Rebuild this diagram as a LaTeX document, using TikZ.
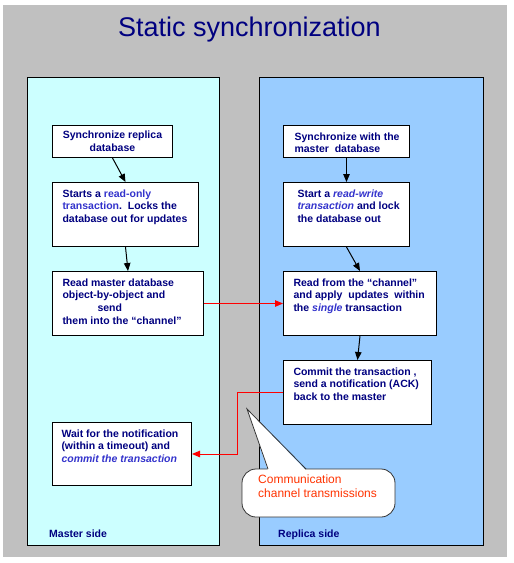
\documentclass[tikz,border=0pt]{standalone}
\usepackage{fontspec}
\setmainfont{Liberation Sans}
\usetikzlibrary{arrows.meta,positioning}
\usepackage{xcolor}

\definecolor{navy}{HTML}{000080}
\definecolor{hiblue}{HTML}{3333CC}
\definecolor{masterbg}{HTML}{CCFFFF}
\definecolor{replicabg}{HTML}{99CCFF}
\definecolor{callred}{HTML}{FF3300}
\definecolor{slidegray}{HTML}{C0C0C0}

\newcommand{\hilite}[1]{{\color{hiblue}#1}}
% top aligned text block of a fixed size: [left pad]{width}{height}{text}
\newcommand{\boxtext}[4][10pt]{\parbox[t][#3][t]{#2}{\raggedright\leftskip=#1\relax #4}}

\begin{document}
\begin{tikzpicture}[x=1pt, y=-1pt]
\tikzset{
    panel/.style={draw=black, line width=1pt},
    mybox/.style={rectangle, draw=black, fill=white, line width=1pt, anchor=north west, inner xsep=0pt, inner ysep=7pt, text=navy, font=\bfseries\fontsize{10.5}{12.8}\selectfont},
    myarrow/.style={-{Triangle[length=8pt,width=6.5pt]}, line width=1pt},
    redarrow/.style={myarrow, draw=red},
    sidelabel/.style={anchor=base west, inner sep=0pt, text=navy, font=\bfseries\fontsize{10.5}{12.8}\selectfont},
    callout/.style={draw=black!80, fill=white, line width=0.8pt}
}
\useasboundingbox (0,0) rectangle (514,563);
\fill[slidegray] (3,5) rectangle (507,557);

\node[anchor=base, inner sep=0pt, text=navy, font=\fontsize{27}{30}\selectfont] (title) at (249.5,36) {Static synchronization};

% the two sides
\draw[panel, fill=masterbg] (27,77) rectangle (219,545);
\draw[panel, fill=replicabg] (259,77) rectangle (483,545);
\node[sidelabel] (master) at (49,537) {Master side};
\node[sidelabel] (replica) at (278,537) {Replica side};

% master side
\node[mybox, minimum width=120pt, minimum height=32pt, inner sep=0pt, align=center] (msync) at (52,125) {Synchronize replica\\database};
\node[mybox, below=24pt of msync.south west, anchor=north west] (mstart) {\boxtext{146pt}{50pt}{Starts a \hilite{read-only}\\\hilite{transaction}.\ \ Locks the\\database out for updates}};
\node[mybox, below=24pt of mstart.south west, anchor=north west] (mread) {\boxtext{151pt}{50pt}{Read master database\\object-by-object and\\\hspace*{35pt}send\\them into the “channel”}};
\node[mybox] (mwait) at (52,422) {\boxtext[9pt]{139pt}{49pt}{Wait for the notification\\(within a timeout) and\\\hilite{\itshape commit the transaction}}};

% replica side
\node[mybox] (rsync) at (283,125) {\boxtext[11pt]{126pt}{18pt}{Synchronize with the\\master\ \ database}};
\node[mybox, below=24pt of rsync.south west, anchor=north west] (rstart) {\boxtext[14pt]{126pt}{50pt}{Start a \hilite{\itshape read-write}\\\hilite{\itshape transaction} and lock\\the database out}};
\node[mybox, below=24pt of rstart.south west, anchor=north west] (rread) {\boxtext{153pt}{50pt}{Read from the “channel”\\and apply\ \ updates\ \ within\\the \hilite{\itshape single} transaction}};
\node[mybox, below=24pt of rread.south west, anchor=north west] (rcommit) {\boxtext{148pt}{50pt}{Commit the transaction ,\\send a notification (ACK)\\back to the master}};

\draw[myarrow] (msync.south) -- (mstart.north);
\draw[myarrow] (mstart.south) -- (mread.north);
\draw[myarrow] (rsync.south) -- (rstart.north);
\draw[myarrow] (rstart.south) -- (rread.north);
\draw[myarrow] (rread.south) -- (rcommit.north);

% channel transmissions
\draw[redarrow] (mread.east) -- (rread.west);
\draw[redarrow] (rcommit.west) -- ++(-46,0) |- (mwait.east);

% callout: rounded box, then the pointer laid over its top edge
\draw[callout, rounded corners=14pt] (242,469) rectangle (395,517);
\fill[white] (268,470.5) -- (247,409) -- (306,470.5) -- cycle;
\draw[draw=black!80, line width=0.8pt] (268,469) -- (247,409) -- (306,469);
\node[anchor=north west, inner sep=0pt, align=left, text=callred, font=\fontsize{12}{14}\selectfont] (comm) at (258,475) {Communication\\channel transmissions};
\end{tikzpicture}
\end{document}
